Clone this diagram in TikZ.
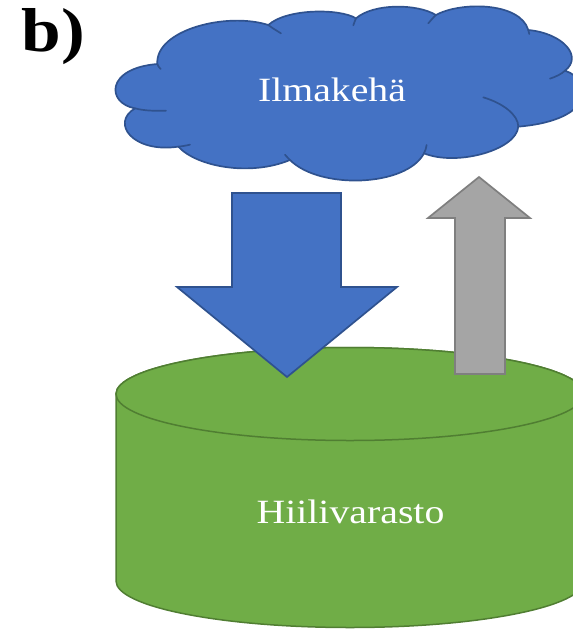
\documentclass[tikz,border=0pt]{standalone}
\usepackage{fontspec}
\setmainfont{Liberation Serif}
\definecolor{cloudblue}{HTML}{4472C4}
\definecolor{cloudedge}{HTML}{2F528F}
\definecolor{stockgreen}{HTML}{70AD47}
\definecolor{stockedge}{HTML}{507E32}
\definecolor{arrowgrey}{HTML}{A5A5A5}
\definecolor{greyedge}{HTML}{7F7F7F}
\tikzset{
  bluefill/.style={fill=cloudblue,draw=cloudedge,line width=1.7pt,line join=round},
  greenfill/.style={fill=stockgreen,draw=stockedge,line width=1.5pt},
  greyfill/.style={fill=arrowgrey,draw=greyedge,line width=1.7pt,line join=miter},
  whitelabel/.style={text=white,font=\fontsize{34}{34}\selectfont,xscale=1.17,transform shape,inner sep=0pt},
  heading/.style={text=black,font=\fontsize{62}{62}\selectfont\bfseries,xscale=1.15,transform shape,inner sep=0pt}
}
\begin{document}
\begin{tikzpicture}[x=1pt,y=-1pt]
\useasboundingbox (0,0) rectangle (573,630);
\clip (0,0) rectangle (573,630);
% storage cylinder
\draw[greenfill] (116,394) -- (116,581) arc[start angle=180,end angle=360,x radius=234pt,y radius=46.5pt] -- (584,394) arc[start angle=0,end angle=180,x radius=234pt,y radius=46.5pt] -- cycle;
\draw[greenfill] (350,394) ellipse[x radius=234pt,y radius=46.5pt];
% cloud
\begin{scope}[shift={(100,0)},x=0.3333pt,y=-0.3333pt]
\draw[bluefill] (105,325)
  .. controls (20,310) and (15,205) .. (172,192)
  .. controls (165,90) and (380,35) .. (505,75)
  .. controls (560,25) and (720,25) .. (768,55)
  .. controls (820,10) and (950,10) .. (1008,45)
  .. controls (1080,5) and (1260,5) .. (1285,90)
  .. controls (1390,100) and (1450,170) .. (1395,212)
  .. controls (1480,240) and (1490,360) .. (1255,380)
  .. controls (1250,450) and (1070,500) .. (972,460)
  .. controls (920,560) and (660,570) .. (570,480)
  .. controls (450,530) and (290,500) .. (235,440)
  .. controls (100,460) and (30,370) .. (105,325) -- cycle;
\draw[cloudedge,line width=1.7pt,line cap=round]
  (105,325) .. controls (135,333) and (170,333) .. (198,332)
  (172,192) .. controls (173,197) and (178,203) .. (182,207)
  (505,75) .. controls (515,83) and (530,92) .. (543,100)
  (768,55) .. controls (765,62) and (762,70) .. (760,76)
  (1008,45) .. controls (1000,52) and (992,62) .. (985,70)
  (1285,90) .. controls (1288,95) and (1288,98) .. (1288,102)
  (1395,212) .. controls (1385,222) and (1368,230) .. (1350,236)
  (1255,380) .. controls (1255,345) and (1210,310) .. (1150,292)
  (972,460) .. controls (976,452) and (979,444) .. (980,435)
  (570,480) .. controls (565,475) and (560,470) .. (555,464)
  (235,440) .. controls (245,439) and (258,437) .. (270,434);
\end{scope}
% flows
\draw[bluefill,line join=miter] (232,193) -- (341,193) -- (341,287) -- (397,287) -- (287,377) -- (177,287) -- (232,287) -- cycle;
\draw[greyfill] (479,177) -- (530,218) -- (505,218) -- (505,374) -- (455,374) -- (455,218) -- (428,218) -- cycle;
% labels
\node[whitelabel] (air) at (332,90) {Ilmakehä};
\node[whitelabel] (stock) at (350.5,512) {Hiilivarasto};
\node[heading] (tag) at (53.5,36.5) {b)};
\end{tikzpicture}
\end{document}
